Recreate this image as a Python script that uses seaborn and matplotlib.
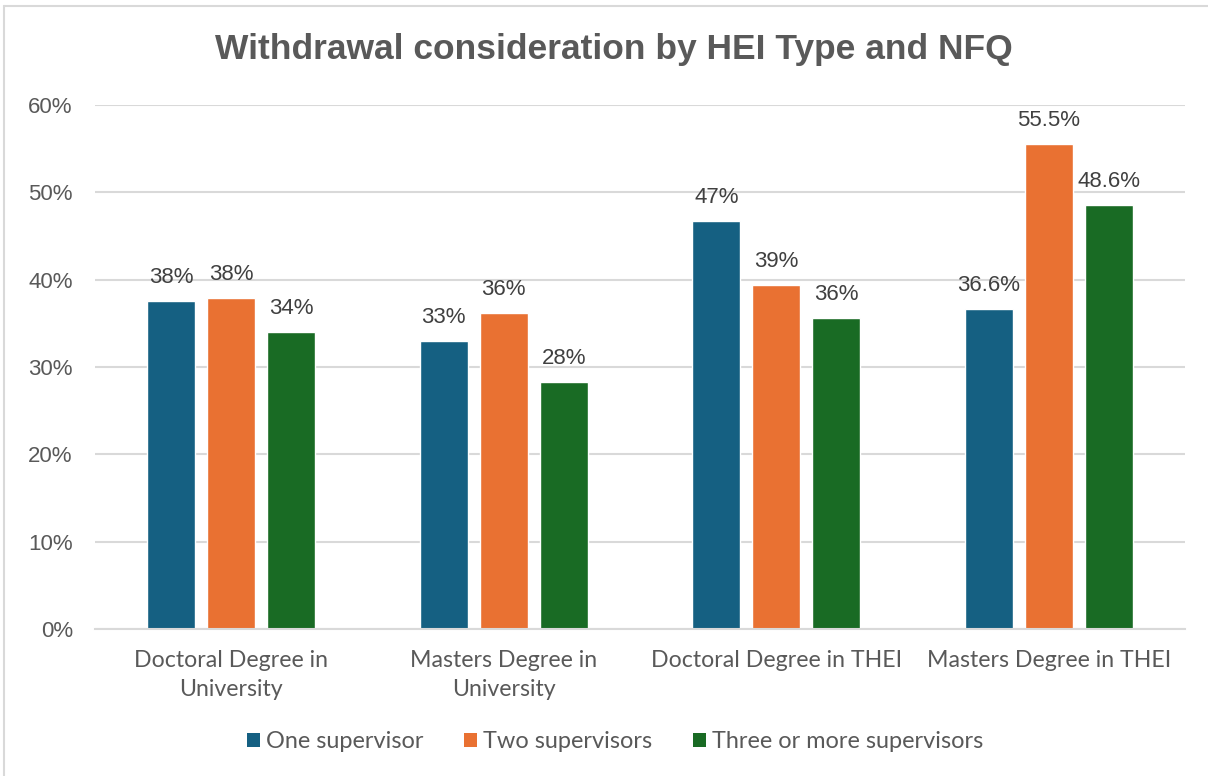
import matplotlib
matplotlib.use("Agg")
import matplotlib.pyplot as plt
from matplotlib import font_manager
from matplotlib.lines import Line2D
import pandas as pd
import seaborn as sns

# --- data -------------------------------------------------------------
categories = [
    "Doctoral Degree in\nUniversity",
    "Masters Degree in\nUniversity",
    "Doctoral Degree in THEI",
    "Masters Degree in THEI",
]
series = ["One supervisor", "Two supervisors", "Three or more supervisors"]
one_supervisor = [37.6, 33.0, 46.7, 36.6]
two_supervisors = [37.9, 36.2, 39.4, 55.5]
three_or_more = [34.0, 28.3, 35.6, 48.6]
label_decimals = [0, 0, 0, 1]          # decimals shown in value labels per category
y_ticks = [0, 10, 20, 30, 40, 50, 60]

colors = ["#156082", "#E97132", "#196B24"]
text_color = "#595959"
grid_color = "#D9D9D9"

# --- fonts ------------------------------------------------------------
available = {f.name for f in font_manager.fontManager.ttflist}
title_font = "Liberation Sans Narrow" if "Liberation Sans Narrow" in available else "Liberation Sans"
body_font = "Liberation Sans"
cat_font = "Lato" if "Lato" in available else "Liberation Sans"

sns.set_theme(style="white")
plt.rcParams["font.family"] = [body_font, "DejaVu Sans"]

df = pd.DataFrame({
    "category": categories * 3,
    "series": [s for s in series for _ in categories],
    "value": one_supervisor + two_supervisors + three_or_more,
})

W, H = 1208, 776
fig = plt.figure(figsize=(W / 100, H / 100), dpi=100)
ax = fig.add_axes([95 / W, 1 - 629 / H, 1090 / W, 524 / H])

sns.barplot(
    data=df, x="category", y="value", hue="series",
    order=categories, hue_order=series, palette=colors,
    width=0.66, gap=0.2, saturation=1, errorbar=None,
    legend=False, ax=ax,
)

ax.set_ylim(0, 60)
ax.set_xlim(-0.5, len(categories) - 0.5)
ax.set_yticks(y_ticks)
ax.set_yticklabels([f"{t}%" for t in y_ticks])
ax.yaxis.grid(True, color=grid_color, linewidth=1.5)
ax.set_axisbelow(True)
for side in ["left", "right", "top"]:
    ax.spines[side].set_visible(False)
ax.spines["bottom"].set_color(grid_color)
ax.spines["bottom"].set_linewidth(1.5)
ax.tick_params(axis="y", length=0, pad=16, labelsize=16, labelcolor=text_color)
ax.tick_params(axis="x", length=0, pad=15, labelcolor=text_color)
for lbl in ax.get_xticklabels():
    lbl.set_fontfamily(cat_font)
    lbl.set_fontsize(16.7)
    lbl.set_linespacing(1.5)
ax.set_xlabel("")
ax.set_ylabel("")

# value labels above each bar
for container, vals in zip(ax.containers, [one_supervisor, two_supervisors, three_or_more]):
    for bar, v, d in zip(container, vals, label_decimals):
        ax.annotate(
            f"{v:.{d}f}%",
            (bar.get_x() + bar.get_width() / 2, bar.get_height()),
            xytext=(0, 13), textcoords="offset points",
            ha="center", va="baseline", fontsize=16, color="#404040",
        )

fig.suptitle(
    "Withdrawal consideration by HEI Type and NFQ",
    x=0.508, y=1 - 50 / H, va="center",
    fontsize=25.5, fontweight="bold", color=text_color, fontfamily=title_font,
)

handles = [plt.Rectangle((0, 0), 1, 1, facecolor=c, edgecolor="none") for c in colors]
fig.legend(
    handles, series, loc="center", bbox_to_anchor=(615 / W, 1 - 742 / H),
    ncol=3, frameon=False, handlelength=0.55, handleheight=0.55,
    handletextpad=0.25, columnspacing=1.75, borderpad=0,
    prop={"family": cat_font, "size": 16.9}, labelcolor=text_color,
)

# chart frame
fig.add_artist(Line2D([4 / W, 4 / W], [0, 1 - 6 / H], transform=fig.transFigure,
                      color="#D9D9D9", linewidth=1.5))
fig.add_artist(Line2D([4 / W, 1], [1 - 6 / H, 1 - 6 / H], transform=fig.transFigure,
                      color="#D9D9D9", linewidth=1.5))

fig.savefig("out.png", dpi=100, facecolor="white")
